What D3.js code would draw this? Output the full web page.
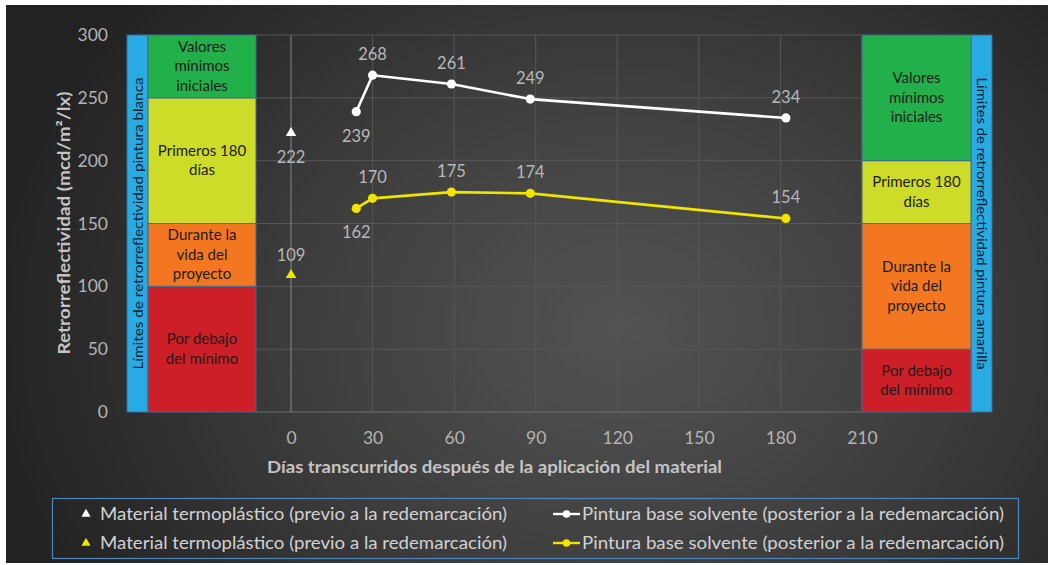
<!DOCTYPE html>
<html>
<head>
<meta charset="utf-8">
<script src="https://cdn.jsdelivr.net/npm/d3@7"></script>
<style>
  html, body { margin: 0; padding: 0; background: #ffffff; }
  svg { display: block; }
  text { font-family: Lato, "Open Sans", "DejaVu Sans", sans-serif; }
</style>
</head>
<body>
<svg id="chart" width="1048" height="565"></svg>
<script>
// ---- data ----
const days = [24, 30, 59, 88, 182];
const whitePaint = [239, 268, 261, 249, 234];
const yellowPaint = [162, 170, 175, 174, 154];
const thermoDay = [0];
const thermoWhite = [222];
const thermoYellow = [109];

const xTicks = [0, 30, 60, 90, 120, 150, 180, 210];
const yTicks = [0, 50, 100, 150, 200, 250, 300];

// retroreflectivity limit bands [from, to, label lines]
const whiteBands = [
  [0, 100, ["Por debajo", "del mínimo"]],
  [100, 150, ["Durante la", "vida del", "proyecto"]],
  [150, 250, ["Primeros 180", "días"]],
  [250, 300, ["Valores", "mínimos", "iniciales"]]
];
const yellowBands = [
  [0, 50, ["Por debajo", "del mínimo"]],
  [50, 150, ["Durante la", "vida del", "proyecto"]],
  [150, 200, ["Primeros 180", "días"]],
  [200, 300, ["Valores", "mínimos", "iniciales"]]
];
const bandColors = ["#cd1f28", "#f37721", "#cddb29", "#22b04b"];

const legendItems = [
  "Material termoplástico (previo a la redemarcación)",
  "Pintura base solvente (posterior a la redemarcación)"
];

// ---- layout ----
const W = 1048, H = 565;
const svg = d3.select("#chart");

const x = d3.scaleLinear().domain([0, 210]).range([291, 862]);
const y = d3.scaleLinear().domain([0, 300]).range([412, 35]);

const defs = svg.append("defs");
const grad = defs.append("radialGradient")
  .attr("id", "bg").attr("gradientUnits", "userSpaceOnUse")
  .attr("cx", 620).attr("cy", 330).attr("r", 640)
  .attr("gradientTransform", "translate(620,330) scale(1,0.8) translate(-620,-330)");
grad.append("stop").attr("offset", 0).attr("stop-color", "#535353");
grad.append("stop").attr("offset", 0.45).attr("stop-color", "#404040");
grad.append("stop").attr("offset", 1).attr("stop-color", "#222222");

svg.append("rect").attr("width", W).attr("height", H).attr("fill", "#ffffff");
svg.append("rect").attr("x", 6).attr("y", 5).attr("width", W - 6).attr("height", 558)
  .attr("fill", "url(#bg)");

// ---- gridlines ----
const grid = svg.append("g");
grid.selectAll("line.h").data(yTicks).join("line")
  .attr("x1", 256).attr("x2", 862)
  .attr("y1", d => y(d)).attr("y2", d => y(d))
  .attr("stroke", d => d === 0 ? "#6e6e6e" : "#575757").attr("stroke-width", 1);
grid.selectAll("line.v").data(xTicks).join("line")
  .attr("x1", d => x(d)).attr("x2", d => x(d))
  .attr("y1", y(300)).attr("y2", y(0))
  .attr("stroke", d => d === 0 ? "#858585" : "#575757").attr("stroke-width", 1);

// ---- axes ----
const yAxis = svg.append("g").attr("transform", "translate(110,0)")
  .call(d3.axisLeft(y).tickValues(yTicks).tickSize(0).tickPadding(2));
yAxis.select(".domain").remove();
yAxis.selectAll("text").attr("fill", "#b4b4b4").style("font-size", "17.5px")
  .style("font-family", "Lato, sans-serif");

const xAxis = svg.append("g").attr("transform", `translate(0,${y(0)})`)
  .call(d3.axisBottom(x).tickValues(xTicks).tickSize(0).tickPadding(20));
xAxis.select(".domain").remove();
xAxis.selectAll("text").attr("fill", "#b4b4b4").style("font-size", "17.5px")
  .style("font-family", "Lato, sans-serif");

svg.append("text")
  .attr("transform", "translate(70,223) rotate(-90)")
  .attr("text-anchor", "middle")
  .attr("textLength", 263).attr("lengthAdjust", "spacingAndGlyphs")
  .attr("fill", "#c4c4c4").style("font-size", "17px").style("font-weight", "bold")
  .text("Retrorreflectividad (mcd/m²/lx)");

svg.append("text")
  .attr("x", 494.5).attr("y", 473)
  .attr("text-anchor", "middle")
  .attr("textLength", 455).attr("lengthAdjust", "spacingAndGlyphs")
  .attr("fill", "#c4c4c4").style("font-size", "17px").style("font-weight", "bold")
  .text("Días transcurridos después de la aplicación del material");

// ---- limit panels ----
function drawPanel(bands, x0, x1, stripX0, stripX1, caption, rot) {
  const g = svg.append("g");
  g.append("rect")
    .attr("x", stripX0).attr("y", y(300))
    .attr("width", stripX1 - stripX0).attr("height", y(0) - y(300))
    .attr("fill", "#28abe2").attr("stroke", "#3f6d94").attr("stroke-width", 1);
  const cx = (stripX0 + stripX1) / 2, cy = (y(0) + y(300)) / 2;
  g.append("text")
    .attr("transform", `translate(${cx + (rot < 0 ? 5 : -5)},${cy}) rotate(${rot})`)
    .attr("text-anchor", "middle")
    .attr("textLength", 292).attr("lengthAdjust", "spacingAndGlyphs")
    .attr("fill", "#10222f").style("font-size", "14px")
    .text(caption);

  bands.forEach((b, i) => {
    const top = y(b[1]), bot = y(b[0]);
    g.append("rect")
      .attr("x", x0).attr("y", top).attr("width", x1 - x0).attr("height", bot - top)
      .attr("fill", bandColors[i]).attr("stroke", "#3f6d94").attr("stroke-width", 1);
    const lines = b[2];
    const lh = 19.5;
    const mid = (top + bot) / 2;
    const t = g.append("text").attr("text-anchor", "middle")
      .attr("fill", "#1c1c1c").style("font-size", "15px");
    lines.forEach((ln, j) => {
      t.append("tspan")
        .attr("x", (x0 + x1) / 2)
        .attr("y", mid + (j - (lines.length - 1) / 2) * lh + 5)
        .text(ln);
    });
  });
}
drawPanel(whiteBands, 148, 256, 127, 148,
  "Límites de retrorreflectividad pintura blanca", -90);
drawPanel(yellowBands, 862, 971, 971, 992,
  "Límites de retrorreflectividad pintura amarilla", 90);

// ---- series ----
const line = d3.line().x(d => x(d[0])).y(d => y(d[1]));
const triangle = d3.symbol().type(d3.symbolTriangle).size(48);

function drawSeries(vals, color, labelBelow) {
  const pts = days.map((d, i) => [d, vals[i]]);
  const g = svg.append("g");
  g.append("path").datum(pts).attr("d", line)
    .attr("fill", "none").attr("stroke", color).attr("stroke-width", 2.6)
    .attr("stroke-linejoin", "round");
  g.selectAll("circle").data(pts).join("circle")
    .attr("cx", d => x(d[0])).attr("cy", d => y(d[1])).attr("r", 4.6)
    .attr("fill", color);
  g.selectAll("text").data(pts).join("text")
    .attr("x", d => x(d[0]))
    .attr("y", (d, i) => y(d[1]) + (labelBelow(i) ? 30 : -15))
    .attr("text-anchor", "middle")
    .attr("fill", "#b8b8b8").style("font-size", "16.5px")
    .text(d => d[1]);
}
drawSeries(whitePaint, "#ffffff", i => i === 0);
drawSeries(yellowPaint, "#f1e500", i => i === 0);

function drawThermo(vals, color, below) {
  const pts = thermoDay.map((d, i) => [d, vals[i]]);
  const g = svg.append("g");
  g.selectAll("path").data(pts).join("path")
    .attr("d", triangle)
    .attr("transform", d => `translate(${x(d[0])},${y(d[1])})`)
    .attr("fill", color);
  g.selectAll("text").data(pts).join("text")
    .attr("x", d => x(d[0]))
    .attr("y", d => y(d[1]) + (below ? 30 : -14))
    .attr("text-anchor", "middle")
    .attr("fill", "#b8b8b8").style("font-size", "16.5px")
    .text(d => d[1]);
}
drawThermo(thermoWhite, "#ffffff", true);
drawThermo(thermoYellow, "#f1e500", false);

// ---- legend ----
const lg = svg.append("g");
lg.append("rect").attr("x", 52.5).attr("y", 498.5).attr("width", 966).attr("height", 60)
  .attr("fill", "none").attr("stroke", "#4c86bd").attr("stroke-width", 1.2);
const legendRows = [["#ffffff", 514], ["#f1e500", 543]];
legendRows.forEach(([color, ry]) => {
  lg.append("path").attr("d", d3.symbol().type(d3.symbolTriangle).size(36))
    .attr("transform", `translate(86,${ry})`).attr("fill", color);
  lg.append("text").attr("x", 100).attr("y", ry + 6)
    .attr("textLength", 407).attr("lengthAdjust", "spacingAndGlyphs")
    .attr("fill", "#d2d2d2").style("font-size", "17.5px")
    .text(legendItems[0]);
  lg.append("line").attr("x1", 553).attr("x2", 580).attr("y1", ry).attr("y2", ry)
    .attr("stroke", color).attr("stroke-width", 2.4);
  lg.append("circle").attr("cx", 566.5).attr("cy", ry).attr("r", 3.8).attr("fill", color);
  lg.append("text").attr("x", 582).attr("y", ry + 6)
    .attr("textLength", 422).attr("lengthAdjust", "spacingAndGlyphs")
    .attr("fill", "#d2d2d2").style("font-size", "17.5px")
    .text(legendItems[1]);
});
</script>
</body>
</html>
